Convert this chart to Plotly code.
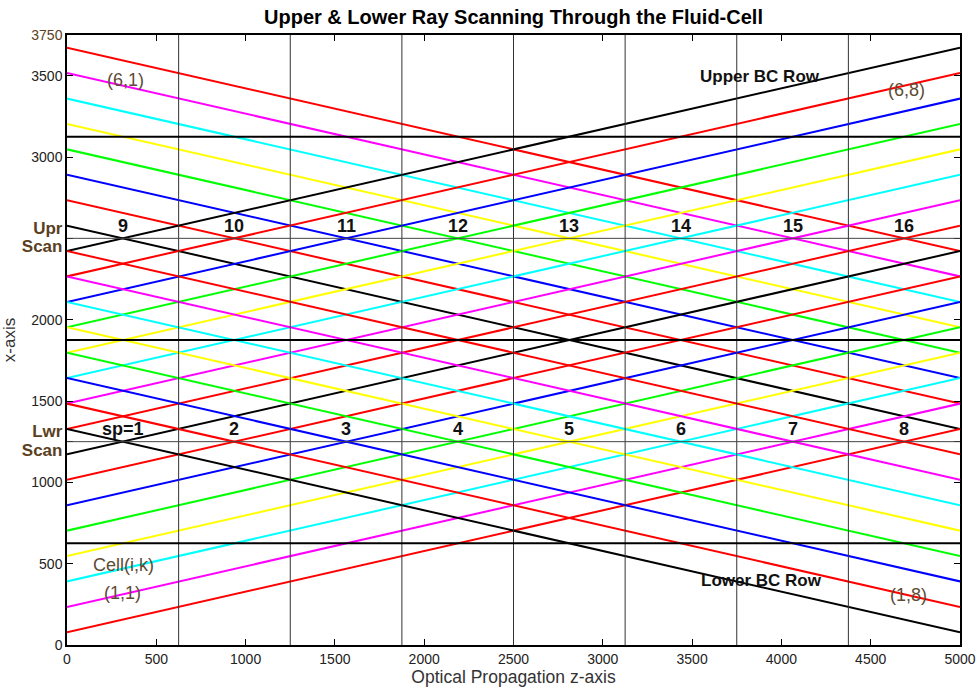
import plotly.graph_objects as go

# ---- data ----
z_ends = [0, 5000]

upper_desc_start = [3672, 3516, 3359, 3203, 3047, 2891, 2734, 2578]
upper_desc_end = [2422, 2266, 2109, 1953, 1797, 1641, 1484, 1328]
upper_asc_start = [2422, 2266, 2109, 1953, 1797, 1641, 1484, 1328]
upper_asc_end = [3672, 3516, 3359, 3203, 3047, 2891, 2734, 2578]
lower_asc_start = [1172, 1016, 859, 703, 547, 391, 234, 78]
lower_asc_end = [2422, 2266, 2109, 1953, 1797, 1641, 1484, 1328]
lower_desc_start = [2422, 2266, 2109, 1953, 1797, 1641, 1484, 1328]
lower_desc_end = [1172, 1016, 859, 703, 547, 391, 234, 78]

desc_colors = ["#ff0000", "#ff00ff", "#00ffff", "#ffff00", "#00ff00", "#0000ff", "#ff0000", "#000000"]
asc_colors = ["#000000", "#ff0000", "#0000ff", "#00ff00", "#ffff00", "#00ffff", "#ff00ff", "#ff0000"]

col_bounds = [625, 1250, 1875, 2500, 3125, 3750, 4375]
row_bounds_thick = [625, 1875, 3125]
row_bounds_thin = [1250, 2500]

lwr_labels = ["sp=1", "2", "3", "4", "5", "6", "7", "8"]
upr_labels = ["9", "10", "11", "12", "13", "14", "15", "16"]
label_z = [312.5, 937.5, 1562.5, 2187.5, 2812.5, 3437.5, 4062.5, 4687.5]
lwr_label_x = 1330
upr_label_x = 2578

x_tickvals = [0, 500, 1000, 1500, 2000, 2500, 3000, 3500, 4000, 4500, 5000]
y_tickvals = [0, 500, 1000, 1250, 1500, 2000, 2500, 3000, 3500, 3750]
BROWN = "#5b3f22"
y_ticktext = ["0", "500", "1000",
              f"<b><span style='color:{BROWN};font-size:17px'>Lwr<br>Scan</span></b>",
              "1500", "2000",
              f"<b><span style='color:{BROWN};font-size:17px'>Upr<br>Scan</span></b>",
              "3000", "3500",
              f"<span style='color:{BROWN}'>3750</span>"]

cell_notes = [("(6,1)", 325, 3473), ("(6,8)", 4703, 3413), ("Cell(i,k)", 314, 493),
              ("(1,1)", 308, 322), ("(1,8)", 4710, 308)]
bc_notes = [("Upper BC Row", 3880, 3493), ("Lower BC Row", 3886, 396)]

FONT = "Liberation Sans, Arial, sans-serif"

fig = go.Figure()

def add_group(starts, ends, colors):
    for s, e, c in zip(starts, ends, colors):
        fig.add_trace(go.Scatter(x=z_ends, y=[s, e], mode="lines",
                                 line=dict(color=c, width=2), showlegend=False,
                                 hoverinfo="skip"))

add_group(upper_desc_start, upper_desc_end, desc_colors)
add_group(upper_asc_start, upper_asc_end, asc_colors)
add_group(lower_asc_start, lower_asc_end, asc_colors)
add_group(lower_desc_start, lower_desc_end, desc_colors)

for z in col_bounds:
    fig.add_shape(type="line", x0=z, x1=z, y0=0, y1=3750, xref="x", yref="y",
                  line=dict(color="#333333", width=1), layer="above")
for r in row_bounds_thick:
    fig.add_shape(type="line", x0=0, x1=5000, y0=r, y1=r, xref="x", yref="y",
                  line=dict(color="#000000", width=2), layer="above")
for r in row_bounds_thin:
    fig.add_shape(type="line", x0=0, x1=5000, y0=r, y1=r, xref="x", yref="y",
                  line=dict(color="#444444", width=1), layer="above")

for lbl, z in zip(lwr_labels, label_z):
    fig.add_annotation(x=z, y=lwr_label_x, text=f"<b>{lbl}</b>", showarrow=False,
                       font=dict(family=FONT, size=18, color="#111111"))
for lbl, z in zip(upr_labels, label_z):
    fig.add_annotation(x=z, y=upr_label_x, text=f"<b>{lbl}</b>", showarrow=False,
                       font=dict(family=FONT, size=18, color="#111111"))

for txt, zx, yx in cell_notes:
    fig.add_annotation(x=zx, y=yx, text=txt, showarrow=False,
                       font=dict(family=FONT, size=18, color="#5e4b33"))
for txt, zx, yx in bc_notes:
    fig.add_annotation(x=zx, y=yx, text=f"<b>{txt}</b>", showarrow=False,
                       font=dict(family=FONT, size=17, color="#111111"))

fig.update_layout(
    width=979, height=689,
    margin=dict(l=67, r=19, t=35, b=44, autoexpand=False),
    paper_bgcolor="white", plot_bgcolor="white",
    title=dict(text="<b>Upper & Lower Ray Scanning Through the Fluid-Cell</b>",
               x=0.5245, xanchor="center", y=0.975, yanchor="middle",
               font=dict(family=FONT, size=20, color="#000000")),
    font=dict(family=FONT, color="#222222"),
)
fig.update_xaxes(range=[0, 5000], tickvals=x_tickvals, ticks="inside", ticklen=6,
                 tickcolor="#000000", showgrid=False, zeroline=False, automargin=False,
                 showline=True, linecolor="#000000", linewidth=1.5, mirror="ticks",
                 tickfont=dict(family=FONT, size=14, color="#222222"),
                 title=dict(text="Optical Propagation z-axis", standoff=2,
                            font=dict(family=FONT, size=17.5, color="#333333")))
fig.update_yaxes(range=[0, 3750], tickvals=y_tickvals, ticktext=y_ticktext,
                 ticks="inside", ticklen=6, tickcolor="#000000",
                 showgrid=False, zeroline=False, automargin=False,
                 showline=True, linecolor="#000000", linewidth=1.5, mirror="ticks",
                 tickfont=dict(family=FONT, size=14, color="#222222"),
                 title=dict(text="x-axis", standoff=4,
                            font=dict(family=FONT, size=17, color="#333333")))

fig.write_html("out.html")
